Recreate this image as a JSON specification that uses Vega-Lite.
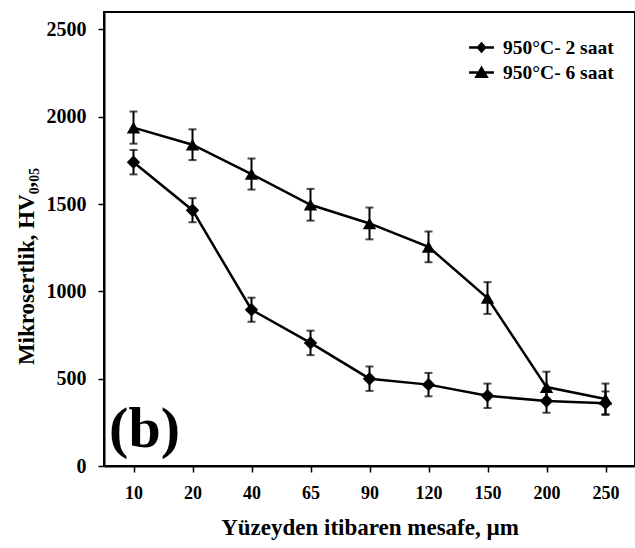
{
  "$schema": "https://vega.github.io/schema/vega-lite/v6.json",
  "width": 531,
  "height": 454,
  "autosize": {"type": "none"},
  "padding": {"left": 104, "top": 12, "right": 0, "bottom": 82},
  "background": "white",
  "config": {
    "font": "Liberation Serif",
    "view": {"stroke": "black", "strokeWidth": 2},
    "axis": {
      "domainColor": "black",
      "domainWidth": 2,
      "tickColor": "black",
      "tickWidth": 1.5,
      "tickSize": 6,
      "grid": false,
      "labelFont": "Liberation Serif",
      "labelFontWeight": "bold",
      "labelFontSize": 18,
      "labelColor": "black",
      "titleFont": "Liberation Serif",
      "titleFontWeight": "bold",
      "titleFontSize": 22,
      "titleColor": "black"
    }
  },
  "resolve": {"scale": {"shape": "independent"}, "legend": {"shape": "independent"}},
  "datasets": {
    "pts": [
      {"d": 10, "s": "950°C- 2 saat", "v": 1740, "lo": 1670, "hi": 1810},
      {"d": 20, "s": "950°C- 2 saat", "v": 1465, "lo": 1396, "hi": 1534},
      {"d": 40, "s": "950°C- 2 saat", "v": 895, "lo": 826, "hi": 964},
      {"d": 65, "s": "950°C- 2 saat", "v": 705, "lo": 635, "hi": 775},
      {"d": 90, "s": "950°C- 2 saat", "v": 500, "lo": 430, "hi": 570},
      {"d": 120, "s": "950°C- 2 saat", "v": 466, "lo": 399, "hi": 533},
      {"d": 150, "s": "950°C- 2 saat", "v": 402, "lo": 332, "hi": 472},
      {"d": 200, "s": "950°C- 2 saat", "v": 372, "lo": 305, "hi": 439},
      {"d": 250, "s": "950°C- 2 saat", "v": 360, "lo": 293, "hi": 427},
      {"d": 10, "s": "950°C- 6 saat", "v": 1938, "lo": 1846, "hi": 2030},
      {"d": 20, "s": "950°C- 6 saat", "v": 1840, "lo": 1752, "hi": 1928},
      {"d": 40, "s": "950°C- 6 saat", "v": 1672, "lo": 1583, "hi": 1761},
      {"d": 65, "s": "950°C- 6 saat", "v": 1496, "lo": 1405, "hi": 1587},
      {"d": 90, "s": "950°C- 6 saat", "v": 1389, "lo": 1298, "hi": 1480},
      {"d": 120, "s": "950°C- 6 saat", "v": 1255, "lo": 1167, "hi": 1343},
      {"d": 150, "s": "950°C- 6 saat", "v": 962, "lo": 871, "hi": 1053},
      {"d": 200, "s": "950°C- 6 saat", "v": 452, "lo": 364, "hi": 540},
      {"d": 250, "s": "950°C- 6 saat", "v": 384, "lo": 296, "hi": 472}
    ],
    "lab": [{"t": "(b)", "d": 10, "v": 0}]
  },
  "data": {"name": "pts"},
  "encoding": {
    "x": {
      "field": "d",
      "type": "ordinal",
      "scale": {"type": "point", "padding": 0.5},
      "axis": {"title": "Yüzeyden itibaren mesafe, µm", "titleFontSize": 23, "labelAngle": 0, "labelPadding": 12, "titlePadding": 14}
    }
  },
  "layer": [
    {
      "mark": {"type": "line", "color": "black", "strokeWidth": 2.5},
      "encoding": {
        "y": {
          "field": "v",
          "type": "quantitative",
          "scale": {"domain": [0, 2500]},
          "axis": {"title": "Mikrosertlik, HV₀,₀₅", "values": [0, 500, 1000, 1500, 2000, 2500], "format": "d", "labelFontSize": 20, "labelPadding": 12, "titleFontSize": 23, "titleX": -78, "titleY": 254, "titleBaseline": "middle", "titleAlign": "center", "titleAngle": -90}
        },
        "detail": {"field": "s"}
      }
    },
    {
      "mark": {"type": "rule", "color": "black", "strokeWidth": 2},
      "encoding": {"y": {"field": "lo", "type": "quantitative"}, "y2": {"field": "hi"}}
    },
    {
      "mark": {"type": "tick", "color": "black", "size": 8, "thickness": 2},
      "encoding": {"y": {"field": "lo", "type": "quantitative"}}
    },
    {
      "mark": {"type": "tick", "color": "black", "size": 8, "thickness": 2},
      "encoding": {"y": {"field": "hi", "type": "quantitative"}}
    },
    {
      "mark": {"type": "point", "filled": true, "color": "black", "opacity": 1, "size": 1},
      "encoding": {
        "y": {"field": "v", "type": "quantitative"},
        "shape": {
          "field": "s",
          "type": "nominal",
          "scale": {"range": ["M-1,-0.1H1V0.1H-1ZM0,-0.46L0.42,0L0,0.46L-0.42,0Z", "M-1,-0.1H1V0.1H-1ZM0,-0.56L0.58,0.44L-0.58,0.44Z"]},
          "legend": {
            "title": null,
            "orient": "none",
            "legendX": 364,
            "legendY": 22,
            "symbolSize": 620,
            "symbolFillColor": "black",
            "symbolOpacity": 1,
            "labelFont": "Liberation Serif",
            "labelFontWeight": "bold",
            "labelFontSize": 19.5,
            "labelColor": "black",
            "labelOffset": 8,
            "rowPadding": 2
          }
        }
      }
    },
    {
      "mark": {"type": "point", "filled": true, "color": "black", "opacity": 1, "size": 180},
      "encoding": {
        "y": {"field": "v", "type": "quantitative"},
        "shape": {
          "field": "s",
          "type": "nominal",
          "scale": {"range": ["diamond", "triangle-up"]},
          "legend": null
        }
      }
    },
    {
      "data": {"name": "lab"},
      "mark": {"type": "text", "font": "Liberation Serif", "fontWeight": "bold", "fontSize": 58, "color": "black", "align": "center", "baseline": "alphabetic", "dx": 11, "dy": -19},
      "encoding": {
        "y": {"field": "v", "type": "quantitative"},
        "text": {"field": "t"}
      }
    }
  ]
}
